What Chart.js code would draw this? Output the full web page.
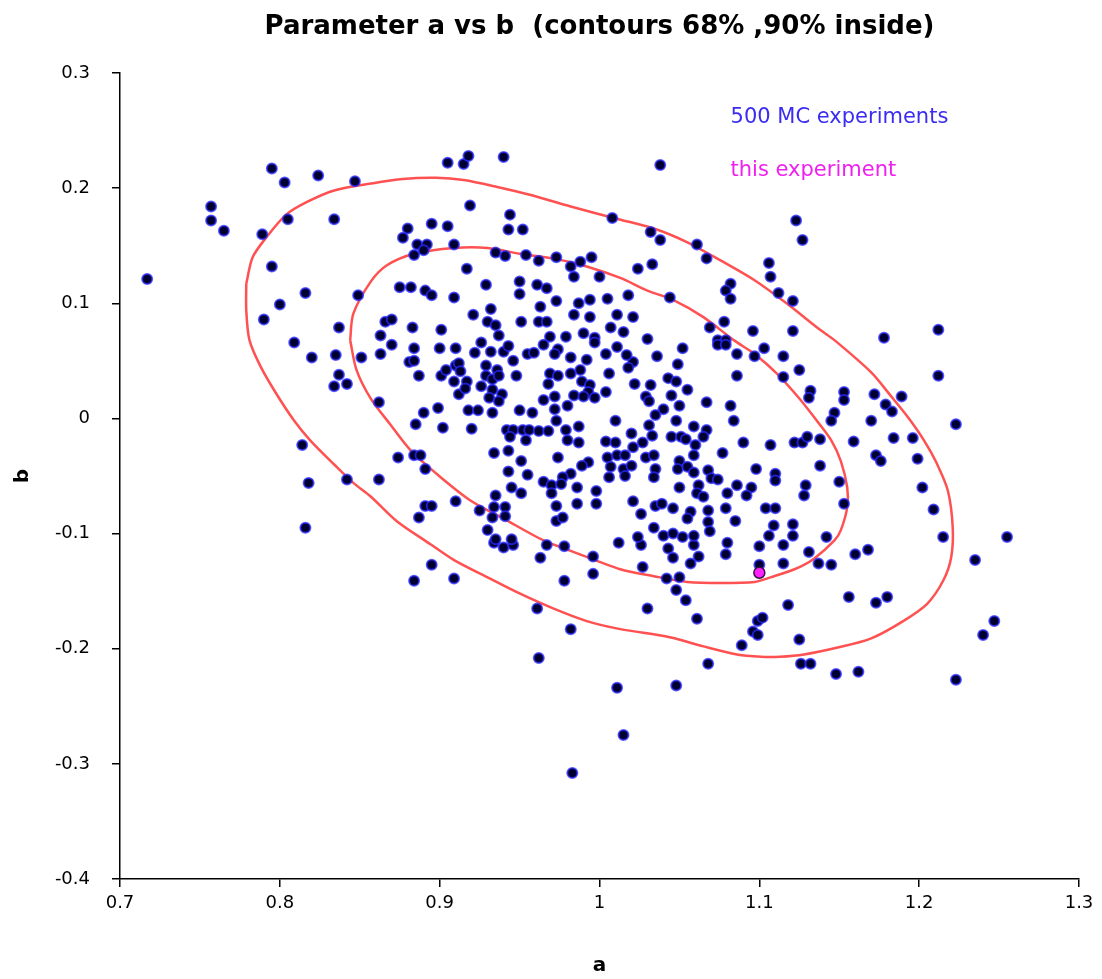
<!DOCTYPE html>
<html>
<head>
<meta charset="utf-8">
<title>Parameter a vs b</title>
<script src="https://cdn.jsdelivr.net/npm/chart.js@4.4.0/dist/chart.umd.min.js"></script>
<style>
  html, body { margin: 0; padding: 0; background: #fff; }
  #wrap { width: 1102px; height: 979px; }
</style>
</head>
<body>
<div id="wrap"><canvas id="scatter-chart"></canvas></div>
<script>
// Monte Carlo results (a, b pairs)
var mcPoints = [
  [0.795,0.217],[0.803,0.205],[0.824,0.211],[0.847,0.206],[0.757,0.184],[0.757,0.172],[0.765,0.163],[0.789,0.160],
  [0.805,0.173],[0.834,0.173],[0.717,0.121],[0.795,0.132],[0.816,0.109],[0.800,0.099],[0.790,0.086],[0.837,0.079],
  [0.849,0.107],[0.809,0.066],
  [0.820,0.053],[0.835,0.055],[0.851,0.053],[0.837,0.038],[0.834,0.028],[0.842,0.030],[0.814,-0.023],[0.818,-0.056],
  [0.842,-0.053],[0.816,-0.095],
  [0.905,0.222],[0.915,0.221],[0.918,0.228],[0.940,0.227],[1.008,0.174],[0.919,0.185],[0.944,0.177],[0.943,0.164],
  [0.952,0.164],[0.880,0.165],[0.877,0.157],[0.895,0.169],[0.905,0.167],[0.886,0.151],[0.892,0.151],[0.890,0.146],
  [0.884,0.142],[0.909,0.151],[0.935,0.144],[0.941,0.141],[0.954,0.142],[0.962,0.137],[0.973,0.140],[0.982,0.132],
  [0.988,0.136],[0.995,0.140],[0.984,0.123],[1.000,0.123],[0.917,0.130],[0.875,0.114],[0.882,0.114],[0.891,0.111],
  [0.895,0.107],[0.909,0.105],[0.929,0.116],[0.950,0.119],[0.950,0.108],[0.961,0.116],[0.967,0.113],[0.973,0.102],
  [0.963,0.097],[0.987,0.100],[0.994,0.103],[1.005,0.104],[0.984,0.090],[0.994,0.088],[1.011,0.090],[0.921,0.090],
  [0.932,0.095],[0.930,0.084],[0.935,0.081],[0.951,0.084],[0.962,0.084],[0.967,0.084],[0.866,0.084],[0.870,0.086],
  [0.883,0.079],[0.901,0.077],[0.863,0.072],[1.007,0.079],[0.937,0.072],[0.969,0.071],[0.979,0.071],[0.990,0.074],
  [0.997,0.070],
  [1.038,0.220],[1.123,0.172],[1.127,0.155],[1.032,0.162],[1.038,0.155],[1.061,0.151],[1.067,0.139],[1.024,0.130],
  [1.033,0.134],[1.018,0.107],[1.044,0.105],[1.021,0.088],[1.015,0.075],[1.030,0.069],[1.106,0.135],[1.107,0.123],
  [1.082,0.117],[1.079,0.111],[1.082,0.104],[1.112,0.109],[1.121,0.102],[1.078,0.084],[1.069,0.079],[1.096,0.076],
  [1.121,0.076],[1.074,0.068],[1.079,0.068],
  [1.178,0.070],[1.212,0.077],
  [1.212,0.037],[1.172,0.021],[1.189,0.019],[1.179,0.012],[1.183,0.006],[1.170,-0.002],[1.223,-0.005],[1.184,-0.017],
  [1.196,-0.017],[1.173,-0.032],[1.176,-0.037],[1.199,-0.035],[1.202,-0.060],[1.209,-0.079],[1.215,-0.103],[1.255,-0.103],
  [1.168,-0.114],[1.235,-0.123],[1.173,-0.160],[1.180,-0.155],[1.247,-0.176],[1.240,-0.188],[1.223,-0.227],
  [0.934,-0.108],[0.940,-0.112],[0.946,-0.110],[0.967,-0.110],[0.978,-0.111],[0.963,-0.121],[0.996,-0.120],[0.996,-0.135],
  [1.012,-0.108],[0.895,-0.127],[0.884,-0.141],[0.909,-0.139],[0.978,-0.141],[0.961,-0.165],[0.982,-0.183],[0.962,-0.208],
  [1.011,-0.234],[1.015,-0.275],[0.983,-0.308],
  [1.100,-0.127],[1.026,-0.110],[1.027,-0.129],[1.043,-0.113],[1.046,-0.121],[1.059,-0.110],[1.062,-0.120],[1.057,-0.126],
  [1.079,-0.118],[1.080,-0.108],[1.100,-0.111],[1.115,-0.110],[1.115,-0.126],[1.131,-0.116],[1.137,-0.126],[1.145,-0.127],
  [1.160,-0.118],[1.042,-0.139],[1.050,-0.138],[1.048,-0.149],[1.054,-0.158],[1.030,-0.165],[1.061,-0.174],[1.118,-0.162],
  [1.156,-0.155],[1.099,-0.176],[1.102,-0.173],[1.096,-0.185],[1.099,-0.188],[1.089,-0.197],[1.125,-0.192],[1.126,-0.213],
  [1.132,-0.213],[1.148,-0.222],[1.162,-0.220],[1.068,-0.213],[1.048,-0.232],
  [0.870,0.064],[0.863,0.056],[0.884,0.061],[0.881,0.049],[0.884,0.050],[0.900,0.061],[0.910,0.061],[0.922,0.057],
  [0.926,0.066],[0.932,0.058],[0.940,0.058],[0.943,0.063],[0.946,0.050],[0.955,0.056],[0.959,0.057],[0.965,0.064],
  [0.974,0.060],[0.972,0.056],[0.982,0.053],[0.992,0.051],[0.997,0.066],[1.004,0.056],[1.011,0.062],
  [0.901,0.037],[0.904,0.042],[0.910,0.046],[0.912,0.048],[0.913,0.041],[0.909,0.032],[0.917,0.032],[0.912,0.021],
  [0.916,0.026],[0.887,0.037],[0.929,0.046],[0.936,0.042],[0.929,0.037],[0.933,0.034],[0.937,0.037],[0.926,0.028],
  [0.933,0.025],[0.939,0.021],[0.931,0.018],[0.937,0.015],[0.948,0.037],[0.969,0.039],[0.968,0.030],[0.974,0.037],
  [0.982,0.039],[0.988,0.042],[0.989,0.032],[0.994,0.029],[0.993,0.023],[1.006,0.039],[1.004,0.023],[0.965,0.016],
  [0.972,0.019],[0.972,0.008],[0.980,0.011],[0.984,0.020],[0.990,0.019],[0.997,0.018],[0.862,0.014],
  [0.899,0.009],[0.890,0.005],[0.885,-0.005],[0.902,-0.008],[0.918,0.007],[0.924,0.007],[0.933,0.005],[0.950,0.007],
  [0.958,0.005],[0.920,-0.009],[0.942,-0.010],[0.946,-0.010],[0.952,-0.010],[0.956,-0.010],[0.962,-0.011],[0.968,-0.011],
  [0.944,-0.016],[0.954,-0.019],[0.973,-0.002],[0.979,-0.010],[0.987,-0.007],[0.980,-0.019],[0.987,-0.021],[1.010,-0.002],
  [1.004,-0.020],[1.010,-0.021],
  [0.874,-0.034],[0.884,-0.032],[0.888,-0.032],[0.891,-0.044],[0.862,-0.053],[0.934,-0.030],[0.943,-0.028],[0.951,-0.037],
  [0.943,-0.046],[0.955,-0.049],[0.974,-0.034],[0.993,-0.038],[0.989,-0.041],[0.982,-0.048],[0.977,-0.051],[0.965,-0.055],
  [0.970,-0.058],[0.976,-0.057],[0.986,-0.060],[1.005,-0.034],[1.007,-0.042],[1.011,-0.032],[1.006,-0.051],[0.945,-0.060],
  [0.951,-0.065],[0.970,-0.065],[0.935,-0.067],[0.998,-0.063],[0.998,-0.074],[0.986,-0.074],[0.973,-0.076],
  [0.891,-0.076],[0.895,-0.076],[0.887,-0.086],[0.910,-0.072],[0.925,-0.080],[0.934,-0.077],[0.941,-0.077],[0.933,-0.086],
  [0.941,-0.085],[0.930,-0.097],[0.935,-0.105],[0.945,-0.105],[0.973,-0.089],[0.977,-0.086],
  [1.052,0.061],[1.036,0.054],[1.021,0.049],[1.017,0.055],[1.018,0.044],[1.049,0.047],[1.074,0.064],[1.079,0.064],
  [1.086,0.056],[1.097,0.054],[1.103,0.061],[1.115,0.054],[1.125,0.042],[1.115,0.036],[1.086,0.037],[1.022,0.030],
  [1.032,0.029],[1.043,0.035],[1.048,0.032],[1.055,0.025],[1.029,0.019],[1.031,0.015],[1.045,0.020],[1.050,0.011],
  [1.040,0.008],[1.067,0.014],[1.082,0.011],[1.084,-0.002],[1.132,0.024],[1.131,0.018],[1.153,0.023],[1.153,0.016],
  [1.147,0.005],[1.145,-0.002],[1.035,0.003],[1.048,-0.002],[1.059,-0.007],[1.067,-0.010],[1.065,-0.016],[1.031,-0.006],
  [1.020,-0.013],[1.033,-0.015],[1.027,-0.021],[1.045,-0.016],[1.051,-0.016],[1.054,-0.018],[1.060,-0.023],[1.016,-0.032],
  [1.021,-0.025],[1.029,-0.034],[1.034,-0.032],[1.059,-0.032],[1.077,-0.030],[1.090,-0.021],[1.107,-0.023],[1.122,-0.021],
  [1.127,-0.021],[1.130,-0.016],[1.138,-0.018],[1.159,-0.020],[1.138,-0.041],[1.098,-0.044],[1.110,-0.048],[1.110,-0.054],
  [1.150,-0.055],[1.153,-0.074],[1.129,-0.058],[1.128,-0.067],[1.015,-0.044],[1.020,-0.041],[1.016,-0.050],[1.035,-0.044],
  [1.034,-0.051],[1.050,-0.037],[1.049,-0.044],[1.055,-0.042],[1.059,-0.047],[1.068,-0.045],[1.070,-0.052],[1.074,-0.053],
  [1.050,-0.060],[1.062,-0.058],[1.061,-0.065],[1.065,-0.068],[1.080,-0.065],[1.086,-0.058],[1.095,-0.060],[1.092,-0.067],
  [1.021,-0.072],[1.035,-0.076],[1.039,-0.074],[1.046,-0.078],[1.057,-0.081],[1.068,-0.080],[1.079,-0.078],[1.085,-0.089],
  [1.104,-0.078],[1.110,-0.078],[1.026,-0.083],[1.055,-0.087],[1.068,-0.090],[1.034,-0.095],[1.109,-0.093],[1.121,-0.092],
  [1.024,-0.103],[1.040,-0.102],[1.046,-0.100],[1.052,-0.103],[1.059,-0.102],[1.069,-0.098],[1.106,-0.102],[1.121,-0.102],
  [1.142,-0.103]
];

// the one real experiment
var thisExp = [1.100, -0.134];

// contour lines, traced around the picture
var contour90 = [
  [0.779,0.117],[0.783,0.140],[0.792,0.158],[0.804,0.177],[0.817,0.188],[0.834,0.198],[0.857,0.204],[0.877,0.208],
  [0.898,0.209],[0.915,0.207],[0.936,0.201],[0.957,0.194],[0.982,0.184],[1.012,0.173],[1.034,0.165],[1.055,0.153],
  [1.076,0.137],[1.097,0.120],[1.117,0.100],[1.138,0.077],[1.147,0.068],[1.170,0.040],[1.182,0.020],[1.193,0.001],
  [1.203,-0.019],[1.211,-0.039],[1.218,-0.063],[1.221,-0.095],[1.220,-0.121],[1.215,-0.141],[1.205,-0.161],[1.190,-0.176],
  [1.170,-0.191],[1.149,-0.199],[1.128,-0.205],[1.113,-0.207],[1.101,-0.207],[1.086,-0.205],[1.065,-0.198],[1.044,-0.190],
  [1.013,-0.183],[0.992,-0.176],[0.971,-0.165],[0.950,-0.152],[0.930,-0.138],[0.909,-0.123],[0.894,-0.109],[0.873,-0.089],
  [0.857,-0.068],[0.846,-0.056],[0.834,-0.040],[0.819,-0.019],[0.809,-0.002],[0.798,0.021],[0.788,0.045],[0.781,0.068],
  [0.779,0.094],[0.779,0.117]
];
var contour68 = [
  [0.844,0.068],[0.846,0.091],[0.857,0.119],[0.867,0.133],[0.884,0.143],[0.909,0.148],[0.930,0.148],[0.950,0.143],
  [0.971,0.139],[0.992,0.132],[1.013,0.122],[1.030,0.111],[1.046,0.103],[1.065,0.088],[1.084,0.068],[1.097,0.056],
  [1.111,0.039],[1.124,0.019],[1.136,-0.002],[1.145,-0.019],[1.151,-0.037],[1.155,-0.060],[1.155,-0.077],[1.151,-0.097],
  [1.147,-0.106],[1.134,-0.122],[1.122,-0.131],[1.107,-0.138],[1.097,-0.142],[1.076,-0.143],[1.055,-0.142],[1.034,-0.137],
  [1.013,-0.131],[0.982,-0.115],[0.965,-0.106],[0.940,-0.087],[0.919,-0.071],[0.898,-0.048],[0.882,-0.028],[0.869,-0.005],
  [0.857,0.017],[0.848,0.042],[0.844,0.068]
];

var xTickValues = [0.7, 0.8, 0.9, 1.0, 1.1, 1.2, 1.3];
var xTickLabels = ["0.7", "0.8", "0.9", "1", "1.1", "1.2", "1.3"];
var yTickValues = [-0.4, -0.3, -0.2, -0.1, 0, 0.1, 0.2, 0.3];
var yTickLabels = ["-0.4", "-0.3", "-0.2", "-0.1", "0", "0.1", "0.2", "0.3"];

function toXY(list) {
    return list.map(function(p) { return {x: p[0], y: p[1]}; });
}

// text notes in the upper right corner
var notesPlugin = {
    id: 'notes',
    afterDatasetsDraw: function(chart) {
        var ctx = chart.ctx;
        var xs = chart.scales.x, ys = chart.scales.y;
        ctx.save();
        ctx.font = '21px "DejaVu Sans", sans-serif';
        ctx.textBaseline = 'middle';
        ctx.textAlign = 'left';
        ctx.fillStyle = '#3a2cf0';
        ctx.fillText('500 MC experiments', xs.getPixelForValue(1.082), ys.getPixelForValue(0.261));
        ctx.fillStyle = '#f020f0';
        ctx.fillText('this experiment', xs.getPixelForValue(1.082), ys.getPixelForValue(0.215));
        ctx.restore();
    }
};

var ctx = document.getElementById("scatter-chart");

var chartData = {
    datasets: [{
        label: "this experiment",
        data: [{x: thisExp[0], y: thisExp[1]}],
        backgroundColor: "#ff20ff",
        borderColor: "#3a1040",
        borderWidth: 1.5,
        pointRadius: 5.5
    }, {
        label: "500 MC experiments",
        data: toXY(mcPoints),
        backgroundColor: "#000030",
        borderColor: "rgba(40,40,255,0.75)",
        borderWidth: 2,
        pointRadius: 5
    }, {
        label: "68%",
        data: toXY(contour68),
        showLine: true,
        fill: false,
        borderColor: "rgba(255,50,50,0.85)",
        borderWidth: 2.5,
        pointRadius: 0,
        tension: 0.3
    }, {
        label: "90%",
        data: toXY(contour90),
        showLine: true,
        fill: false,
        borderColor: "rgba(255,50,50,0.85)",
        borderWidth: 2.5,
        pointRadius: 0,
        tension: 0.3
    }]
};

var config = {
    type: 'scatter',
    data: chartData,
    plugins: [notesPlugin],
    options: {
        responsive: true,
        maintainAspectRatio: false,
        animation: false,
        layout: { padding: { left: 0, right: 23, top: 0, bottom: 0 } },
        plugins: {
            legend: { display: false },
            tooltip: { enabled: false },
            title: {
                display: true,
                fullSize: false,
                text: "Parameter a vs b  (contours 68% ,90% inside)",
                color: "#000",
                font: { family: '"DejaVu Sans", sans-serif', size: 26, weight: 'bold', lineHeight: 1.2 },
                padding: { top: 12, bottom: 29.8 }
            }
        },
        scales: {
            x: {
                type: 'linear',
                min: 0.7,
                max: 1.3,
                afterFit: function(scale) { scale.height = 100; },
                afterBuildTicks: function(scale) {
                    scale.ticks = xTickValues.map(function(v) { return {value: v}; });
                },
                ticks: {
                    color: "#000",
                    font: { family: '"DejaVu Sans", sans-serif', size: 18 },
                    padding: 6,
                    maxRotation: 0,
                    callback: function(value, index) { return xTickLabels[index]; }
                },
                grid: { drawOnChartArea: false, drawTicks: true, tickLength: 8, color: "#000", lineWidth: 1.5 },
                border: { display: true, color: "#000", width: 1.5 },
                title: {
                    display: true,
                    text: "a",
                    color: "#000",
                    font: { family: '"DejaVu Sans", sans-serif', size: 20, weight: 'bold' },
                    padding: { top: 0, bottom: 1 }
                }
            },
            y: {
                type: 'linear',
                min: -0.4,
                max: 0.3,
                afterFit: function(scale) { scale.width = 120; },
                afterBuildTicks: function(scale) {
                    scale.ticks = yTickValues.map(function(v) { return {value: v}; });
                },
                ticks: {
                    color: "#000",
                    font: { family: '"DejaVu Sans", sans-serif', size: 18 },
                    padding: 22,
                    callback: function(value, index) { return yTickLabels[index]; }
                },
                grid: { drawOnChartArea: false, drawTicks: true, tickLength: 8, color: "#000", lineWidth: 1.5 },
                border: { display: true, color: "#000", width: 1.5 },
                title: {
                    display: true,
                    text: "b",
                    color: "#000",
                    font: { family: '"DejaVu Sans", sans-serif', size: 20, weight: 'bold' },
                    padding: { top: 11, bottom: 0 }
                }
            }
        }
    }
};

// Create the chart
var scatterChart = new Chart(ctx, config);
</script>
</body>
</html>
